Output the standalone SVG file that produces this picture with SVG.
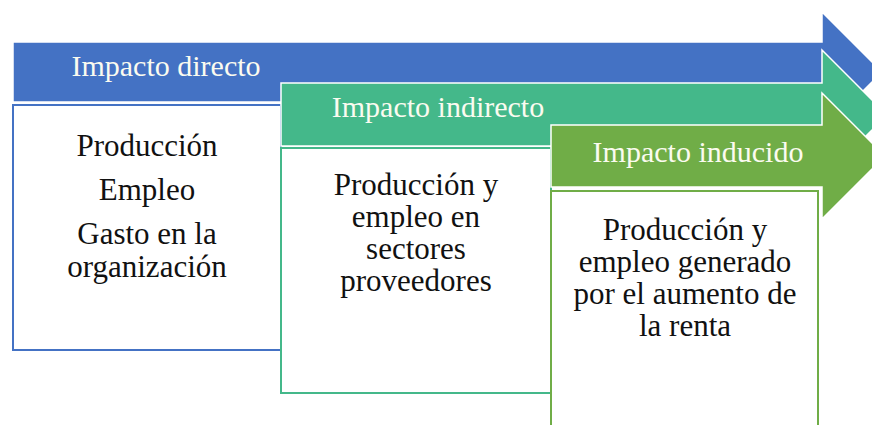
<svg xmlns="http://www.w3.org/2000/svg" width="872" height="425" viewBox="0 0 872 425">
<style>
.bar{stroke:#ffffff;stroke-width:1.5;stroke-linejoin:miter}
.box{fill:#ffffff;stroke-width:2}
.hd{font-family:"Liberation Serif","Times New Roman",serif;font-size:30px;fill:#fbfbf0;text-anchor:middle}
.tx{font-family:"Liberation Serif","Times New Roman",serif;font-size:31px;fill:#111111;text-anchor:middle}
</style>
<rect width="872" height="425" fill="#ffffff"/>
<g id="directo">
<polygon class="bar" fill="#4472C4" points="13,42 822,42 822,12 882,72 822,132 822,102 13,102"/>
<rect class="box" stroke="#4472C4" x="13" y="105" width="268" height="245"/>
<text class="hd" x="166" y="76">Impacto directo</text>
<text class="tx" x="147" y="156">Producción</text>
<text class="tx" x="147" y="200">Empleo</text>
<text class="tx" x="147" y="244">Gasto en la</text>
<text class="tx" x="147" y="277">organización</text>
</g>
<g id="indirecto">
<polygon class="bar" fill="#44B88A" points="281,83 822,83 822,50 887,115 822,180 822,146 281,146"/>
<rect class="box" stroke="#44B88A" x="281" y="148" width="270" height="245"/>
<text class="hd" x="438" y="117">Impacto indirecto</text>
<text class="tx" x="416" y="195">Producción y</text>
<text class="tx" x="416" y="227">empleo en</text>
<text class="tx" x="416" y="259">sectores</text>
<text class="tx" x="416" y="291">proveedores</text>
</g>
<g id="inducido">
<polygon class="bar" fill="#70AD47" points="551,125 822,125 822,93 885,156 822,219 822,187 551,187"/>
<rect class="box" stroke="#70AD47" x="551" y="191" width="267" height="245"/>
<text class="hd" x="698" y="162">Impacto inducido</text>
<text class="tx" x="685" y="240">Producción y</text>
<text class="tx" x="685" y="272">empleo generado</text>
<text class="tx" x="685" y="304">por el aumento de</text>
<text class="tx" x="685" y="336">la renta</text>
</g>
<g id="connectors"></g>
</svg>
